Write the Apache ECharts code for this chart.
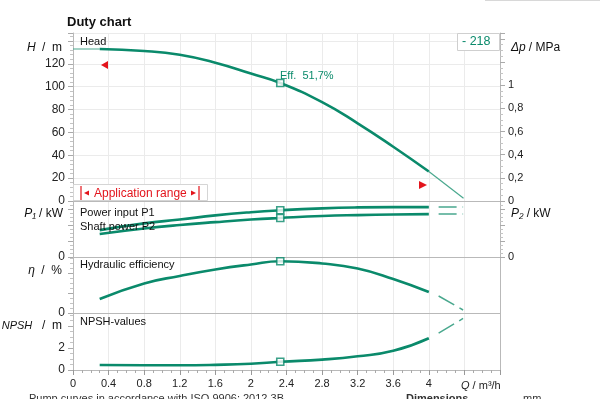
<!DOCTYPE html>
<html><head><meta charset="utf-8">
<script src="https://cdn.jsdelivr.net/npm/echarts@6/dist/echarts.min.js"></script>
<style>html,body{margin:0;padding:0;background:#fff}#c{width:600px;height:399px}</style>
</head><body><div id="c"></div>
<script>
// ---- data ----
const Q        = [0.3, 0.8, 1.2, 1.6, 2.0, 2.33, 2.8, 3.2, 3.6, 4.0];
const HEAD     = [133, 131.3, 127.9, 121, 111.5, 103.3, 86.5, 68, 47.5, 25.8];
const P1       = [0.84, 1.05, 1.17, 1.30, 1.40, 1.46, 1.52, 1.55, 1.56, 1.56];
const P2       = [0.72, 0.89, 1.0, 1.09, 1.17, 1.22, 1.28, 1.31, 1.33, 1.34];
const EFF      = [14, 29.5, 37, 43.5, 48.5, 51.7, 49.5, 44.5, 34, 21];
const NPSH     = [0.45, 0.43, 0.43, 0.47, 0.57, 0.75, 0.95, 1.25, 1.75, 2.9];
const BEP_INDEX = 5;
const Q_LEAD   = [0, 0.3];   const HEAD_LEAD = [133, 133];
const Q_TAIL   = [4.0, 4.39]; const HEAD_TAIL = [25.8, 2.4];
const Q_EXT    = [4.11, 4.385];
const P1_EXT   = [1.56, 1.56];
const P2_EXT   = [1.34, 1.34];
const EFF_EXT  = [17, 3];
const NPSH_EXT = [3.36, 4.7];
const X_TICKS_MAX_LABEL = 4.0;
const EFF_TEXT = 'Eff.  51,7%';
const PUMP_ID = '- 218';

const TEAL = '#0a8a6b', TEAL_L = '#4aa88e', RED = '#e3141c';
const FONT = 'Liberation Sans, Arial, sans-serif';
const zip = (a, b) => a.map((v, i) => [v, b[i]]);

const chart = echarts.init(document.getElementById('c'), null, {renderer: 'canvas'});
const L = 73, R = 100;
const grids = [
  {left: L, right: R, top: 33, height: 168},
  {left: L, right: R, top: 201, height: 56},
  {left: L, right: R, top: 257, height: 56},
  {left: L, right: R, top: 313, height: 57}
];
const gridLine = {show: true, lineStyle: {color: '#ebebeb', width: 1}};
const xAxes = grids.map((g, i) => ({
  type: 'value', gridIndex: i, min: 0, max: 4.8, interval: 0.4,
  axisLine: {show: true, onZero: false, lineStyle: {color: '#b9b9b9'}},
  axisTick: {show: i === 3, length: 5, lineStyle: {color: '#999'}},
  minorTick: {show: i === 3, splitNumber: 4, length: 3, lineStyle: {color: '#aaa'}},
  axisLabel: {show: i === 3, fontFamily: FONT, fontSize: 11, color: '#222', margin: 8,
    formatter: v => v > X_TICKS_MAX_LABEL + 0.01 ? '' : String(parseFloat(v.toFixed(1)))},
  splitLine: gridLine
}));
const onlyZero = v => (Math.abs(v) < 1e-9 ? '0' : '');
const axLine = {show: true, onZero: false, lineStyle: {color: '#b9b9b9'}};
const tick = {show: true, length: 5, lineStyle: {color: '#aaa'}};
const mtick = n => ({show: true, splitNumber: n, length: 3, lineStyle: {color: '#c4c4c4'}});
const lab = (fmt, size) => ({fontFamily: FONT, fontSize: size || 11, color: '#222', margin: 8, formatter: fmt});
const yAxes = [
  {type: 'value', gridIndex: 0, position: 'left', min: 0, max: 147, interval: 20,
   axisLine: axLine, axisTick: tick, minorTick: mtick(5),
   axisLabel: lab(v => (v > 125 ? '' : String(v)), 12), splitLine: gridLine},
  {type: 'value', gridIndex: 0, position: 'right', min: 0, max: 1.45, interval: 0.2,
   axisLine: axLine, axisTick: tick, minorTick: mtick(4),
   axisLabel: lab(v => (v > 1.05 ? '' : (v === 0 ? '0' : (Math.abs(v - 1) < 1e-6 ? '1' : v.toFixed(1).replace('.', ','))))),
   splitLine: {show: false}},
  {type: 'value', gridIndex: 1, position: 'left', min: 0, max: 1.75, interval: 0.5,
   axisLine: axLine, axisTick: tick, minorTick: mtick(4), axisLabel: lab(onlyZero, 12), splitLine: {show: false}},
  {type: 'value', gridIndex: 1, position: 'right', min: 0, max: 1.75, interval: 0.5,
   axisLine: axLine, axisTick: tick, minorTick: mtick(4), axisLabel: lab(onlyZero), splitLine: {show: false}},
  {type: 'value', gridIndex: 2, position: 'left', min: 0, max: 56, interval: 20,
   axisLine: axLine, axisTick: tick, minorTick: mtick(4), axisLabel: lab(onlyZero, 12), splitLine: {show: false}},
  {type: 'value', gridIndex: 2, position: 'right', min: 0, max: 56, interval: 20,
   axisLine: axLine, axisTick: {show: false}, axisLabel: {show: false}, splitLine: {show: false}},
  {type: 'value', gridIndex: 3, position: 'left', min: 0, max: 5.2, interval: 2,
   axisLine: axLine, axisTick: tick, minorTick: mtick(4),
   axisLabel: lab(v => (v > 3 ? '' : String(v)), 12), splitLine: {show: false}},
  {type: 'value', gridIndex: 3, position: 'right', min: 0, max: 5.2, interval: 2,
   axisLine: axLine, axisTick: {show: false}, axisLabel: {show: false}, splitLine: {show: false}}
];
const line = (xi, yi, data, opt) => Object.assign({
  type: 'line', xAxisIndex: xi, yAxisIndex: yi, data, smooth: 0.5, showSymbol: false,
  silent: true, lineStyle: {color: TEAL, width: 2.6}, z: 3
}, opt || {});
const thin = {lineStyle: {color: TEAL_L, width: 1.2}, smooth: false};
const dashed = {lineStyle: {color: TEAL_L, width: 1.5, type: [18, 6]}, smooth: false};
const bep = (xi, yi, arr) => ({
  type: 'scatter', xAxisIndex: xi, yAxisIndex: yi, data: [[Q[BEP_INDEX], arr[BEP_INDEX]]],
  symbol: 'rect', symbolSize: 7, silent: true, z: 5,
  itemStyle: {color: '#fff', borderColor: TEAL, borderWidth: 1.6}
});
const series = [
  line(0, 0, zip(Q, HEAD)),
  line(0, 0, zip(Q_LEAD, HEAD_LEAD), thin),
  line(0, 0, zip(Q_TAIL, HEAD_TAIL), thin),
  line(1, 2, zip(Q, P1)),
  line(1, 2, zip(Q, P2)),
  line(1, 2, zip(Q_EXT, P1_EXT), dashed),
  line(1, 2, zip(Q_EXT, P2_EXT), dashed),
  line(2, 4, zip(Q, EFF)),
  line(2, 4, zip(Q_EXT, EFF_EXT), dashed),
  line(3, 6, zip(Q, NPSH)),
  line(3, 6, zip(Q_EXT, NPSH_EXT), dashed),
  bep(0, 0, HEAD), bep(1, 2, P1), bep(1, 2, P2), bep(2, 4, EFF), bep(3, 6, NPSH)
];
const txt = (x, y, text, extra, align) => ({
  type: 'text', x, y, silent: true, z: 10,
  style: Object.assign({text, fill: '#111', font: '11px ' + FONT, textAlign: align || 'left', textVerticalAlign: 'middle'}, extra || {})
});
const rich = {i: {fontStyle: 'italic', fontFamily: FONT, fontSize: 12, fill: '#111'},
              n: {fontFamily: FONT, fontSize: 12, fill: '#111'}};
const graphics = [
  txt(67, 22, 'Duty chart', {font: 'bold 13px ' + FONT}),
  txt(62, 48, '{i|H} {n| /  m}', {rich}, 'right'),
  txt(511, 48, '{i|Δp} {n|/ MPa}', {rich}),
  txt(63, 214, '{i|P₁} {n|/ kW}', {rich}, 'right'),
  txt(511, 214, '{i|P₂} {n|/ kW}', {rich}),
  txt(62, 271, '{i|η} {n| /  %}', {rich}, 'right'),
  txt(62, 326, '{i|NPSH} {n|  /  m}', {rich: {i: {fontStyle: 'italic', fontFamily: FONT, fontSize: 11, fill: '#111'}, n: rich.n}}, 'right'),
  txt(80, 42, 'Head'),
  txt(80, 213, 'Power input P1'),
  txt(80, 227, 'Shaft power P2'),
  txt(80, 265, 'Hydraulic efficiency'),
  txt(80, 322, 'NPSH-values'),
  txt(280, 76, EFF_TEXT, {fill: TEAL}),
  {type: 'rect', shape: {x: 457.5, y: 33.5, width: 42, height: 17}, style: {fill: '#fff', stroke: '#cfcfcf', lineWidth: 1}, z: 9},
  txt(462, 42, PUMP_ID, {fill: TEAL, font: '12.5px ' + FONT}),
  {type: 'rect', shape: {x: 73.5, y: 184.5, width: 134, height: 16}, style: {fill: '#fff', stroke: '#d5d5d5', lineWidth: 1}, z: 9},
  {type: 'line', shape: {x1: 81, y1: 186, x2: 81, y2: 200}, style: {stroke: RED, lineWidth: 1.2}, z: 10},
  {type: 'line', shape: {x1: 199, y1: 186, x2: 199, y2: 200}, style: {stroke: RED, lineWidth: 1.2}, z: 10},
  {type: 'polygon', shape: {points: [[84, 193], [89, 190.5], [89, 195.5]]}, style: {fill: RED}, z: 10},
  {type: 'polygon', shape: {points: [[196, 193], [191, 190.5], [191, 195.5]]}, style: {fill: RED}, z: 10},
  txt(94, 193.5, 'Application range', {fill: RED, font: '12px ' + FONT}),
  {type: 'polygon', shape: {points: [[101, 65], [108, 61], [108, 69]]}, style: {fill: RED}, z: 10},
  {type: 'polygon', shape: {points: [[427, 185], [419, 181], [419, 189]]}, style: {fill: RED}, z: 10},
  txt(461, 386, 'Q / m³/h', {rich: {i: {fontStyle: 'italic', fontFamily: FONT, fontSize: 11, fill: '#222'}, n: {fontFamily: FONT, fontSize: 11, fill: '#222'}}, text: '{i|Q} {n|/ m³/h}'}),
  txt(29, 399, 'Pump curves in accordance with ISO 9906: 2012 3B', {fill: '#333', font: '11px ' + FONT}),
  txt(406, 399, 'Dimensions', {fill: '#333', font: 'bold 11px ' + FONT}),
  txt(523, 399, 'mm', {fill: '#333', font: '11px ' + FONT}),
  {type: 'line', shape: {x1: 485, y1: 0.5, x2: 600, y2: 0.5}, style: {stroke: '#d8d8d8', lineWidth: 1}}
];
chart.setOption({
  animation: false, backgroundColor: '#fff',
  grid: grids, xAxis: xAxes, yAxis: yAxes, series, graphic: graphics
});
</script></body></html>
